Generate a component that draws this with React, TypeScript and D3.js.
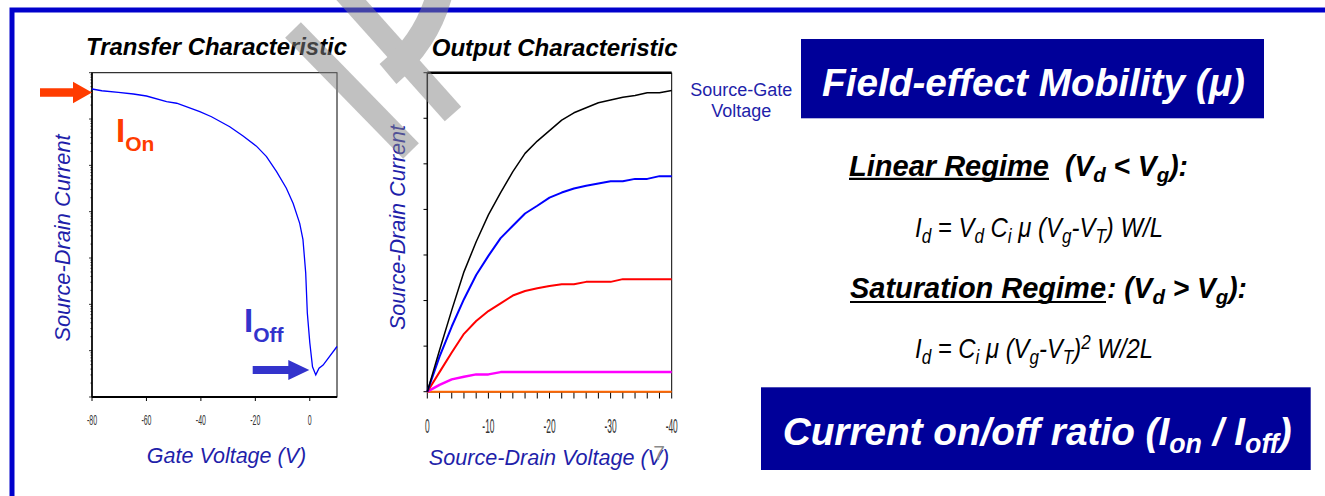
import React from "react";
import * as d3 from "d3";

// ---------- data ----------
// Transfer characteristic: gate voltage (V) vs source-drain current (A, log scale)
const transferVg = [-80, -76.4, -70.3, -64.8, -60, -52.6, -48.9, -40.4, -36.1, -29.4, -24.5, -19.6, -15.9, -12.2, -8.6, -6.1, -3.7, -2.5, -1.5, -0.9, 0, 1.0, 2.2, 3.4, 4.9, 10];
const transferId = [4.45e-6, 4.08e-6, 3.78e-6, 3.47e-6, 3.14e-6, 2.37e-6, 2.19e-6, 1.44e-6, 1.12e-6, 6.8e-7, 4.3e-7, 2.6e-7, 1.54e-7, 7.3e-8, 3.2e-8, 1.5e-8, 5.6e-9, 2.5e-9, 4.8e-10, 6.5e-11, 1.5e-11, 4.5e-12, 3.0e-12, 4.2e-12, 4.9e-12, 1.23e-11];
const transferTicks = [-80, -60, -40, -20, 0];

// Output characteristic: source-drain voltage (V) vs current (arb. units)
const outputVd = [0, -2, -4, -6, -8, -10, -12, -14, -16, -18, -20, -22, -24, -26, -28, -30, -32, -34, -36, -38, -40];
const outBlack = [0, 0.91, 1.79, 2.63, 3.29, 3.88, 4.37, 4.83, 5.23, 5.5, 5.73, 5.96, 6.12, 6.23, 6.34, 6.4, 6.46, 6.5, 6.56, 6.56, 6.61];
const outBlue = [0, 0.77, 1.43, 2.03, 2.56, 2.98, 3.37, 3.64, 3.91, 4.08, 4.26, 4.37, 4.46, 4.52, 4.57, 4.62, 4.62, 4.67, 4.67, 4.73, 4.73];
const outRed = [0, 0.43, 0.86, 1.27, 1.55, 1.77, 1.94, 2.11, 2.21, 2.27, 2.32, 2.36, 2.36, 2.41, 2.41, 2.41, 2.47, 2.47, 2.47, 2.47, 2.47];
const outMagenta = [0, 0.15, 0.27, 0.33, 0.38, 0.38, 0.43, 0.43, 0.43, 0.43, 0.43, 0.43, 0.43, 0.43, 0.43, 0.43, 0.43, 0.43, 0.43, 0.43, 0.43];
const outOrange = [0, 0, 0, 0, 0, 0, 0, 0, 0, 0, 0, 0, 0, 0, 0, 0, 0, 0, 0, 0, 0];
const outputTicks = [0, -10, -20, -30, -40];
const outputMinorTicks = outputVd;
const outputYTicks = [0, 1, 2, 3, 4, 5, 6, 7];

const outSeries = [
  { values: outOrange, color: "#ff6600", width: 2 },
  { values: outMagenta, color: "#ff00ff", width: 2.5 },
  { values: outRed, color: "#ff0000", width: 2 },
  { values: outBlue, color: "#0000ff", width: 2 },
  { values: outBlack, color: "#000000", width: 1.5 },
];

const FONT = "'Liberation Sans', Arial, Helvetica, sans-serif";
const LABEL = "#1f1faa";
const NAVY = "#000099";

type Seg = [string, "n" | "sub" | "sup"];

function Rich(props: {
  x: number; y: number; segs: Seg[]; size: number; subSize: number; shift: number;
  weight?: string; fill?: string; textLength?: number;
}) {
  const { x, y, segs, size, subSize, shift, weight = "normal", fill = "#000", textLength } = props;
  let cur = 0;
  return (
    <text x={x} y={y} fontFamily={FONT} fontSize={size} fontStyle="italic" fontWeight={weight} fill={fill}
      style={{ whiteSpace: "pre" }}
      {...(textLength ? { textLength, lengthAdjust: "spacingAndGlyphs" } : {})}>
      {segs.map(([t, k], i) => {
        const target = k === "sub" ? shift : k === "sup" ? -shift * 1.6 : 0;
        const dy = target - cur;
        cur = target;
        return (
          <tspan key={i} dy={dy} fontSize={k === "n" ? size : subSize}>{t}</tspan>
        );
      })}
    </text>
  );
}

export default function App() {
  // transfer scales
  const tx = d3.scaleLinear().domain([-80, 10]).range([92, 337]);
  const ty = d3.scaleLog().domain([1e-12, 1e-5]).range([397, 72.7]);
  const tLine = d3.line<number>().x((_, i) => tx(transferVg[i])).y((d) => ty(d));
  const minor: { v: number; major: boolean }[] = [];
  for (let e = -12; e <= -6; e++) {
    for (let m = 1; m <= 9; m++) minor.push({ v: m * Math.pow(10, e), major: m === 1 });
  }
  minor.push({ v: 1e-5, major: true });

  // output scales
  const ox = d3.scaleLinear().domain([0, -40]).range([427.3, 671.7]);
  const oy = d3.scaleLinear().domain([0, 7]).range([391.7, 72.7]);
  const oLine = d3.line<number>().x((_, i) => ox(outputVd[i])).y((d) => oy(d));

  return (
    <svg width={1325} height={496} style={{ position: "absolute", left: 0, top: 0, background: "#fff" }}>
      <rect x={0} y={0} width={1325} height={496} fill="#fff" />
      {/* frame */}
      <path d="M12,500 L12,10 L1330,10" fill="none" stroke="#0000cc" strokeWidth={5} />

      {/* ---------- Transfer characteristic ---------- */}
      <text x={86} y={55} fontFamily={FONT} fontSize={23} fontWeight="bold" fontStyle="italic" textLength={261} lengthAdjust="spacingAndGlyphs">Transfer Characteristic</text>
      <rect x={92} y={72.7} width={245} height={324.3} fill="none" stroke="#000" strokeWidth={1} />
      <line x1={92} x2={92} y1={72.7} y2={397} stroke="#000" strokeWidth={1.5} />
      <line x1={92} x2={337} y1={397} y2={397} stroke="#000" strokeWidth={2} />
      {minor.map((m, i) => (
        <line key={i} x1={92} x2={m.major ? 89 : 90.5} y1={ty(m.v)} y2={ty(m.v)} stroke="#000" strokeWidth={0.8} />
      ))}
      {transferTicks.map((v) => (
        <g key={v}>
          <line x1={tx(v)} x2={tx(v)} y1={397} y2={401} stroke="#000" strokeWidth={1} />
          <text transform={`translate(${tx(v)},425) scale(0.5,1)`} textAnchor="middle" fontFamily={FONT} fontSize={14} fill="#333">{String(v)}</text>
        </g>
      ))}
      <path d={tLine(transferId) || ""} fill="none" stroke="#0000ff" strokeWidth={1.3} />
      <text transform="translate(70,238) rotate(-90)" textAnchor="middle" fontFamily={FONT} fontSize={21.8} fontStyle="italic" fill={LABEL}>Source-Drain Current</text>
      <text x={226.5} y={463} textAnchor="middle" fontFamily={FONT} fontSize={21.5} fontStyle="italic" fill={LABEL}>Gate Voltage (V)</text>

      {/* I_On annotation */}
      <path d="M40,88.3 L73,88.3 L73,81.7 L92,92.5 L73,103.3 L73,96.7 L40,96.7 Z" fill="#ff3c00" />
      <text x={116} y={141.7} fontFamily={FONT} fontWeight="bold" fill="#ff3c00">
        <tspan fontSize={33}>I</tspan>
        <tspan fontSize={21} dy={9}>On</tspan>
      </text>
      {/* I_Off annotation */}
      <path d="M252.7,366 L288.3,366 L288.3,360 L309.3,370 L288.3,380 L288.3,374 L252.7,374 Z" fill="#3333cc" />
      <text x={244} y={331.7} fontFamily={FONT} fontWeight="bold" fill="#3333cc">
        <tspan fontSize={33}>I</tspan>
        <tspan fontSize={21} dy={10}>Off</tspan>
      </text>

      {/* ---------- Output characteristic ---------- */}
      <text x={431.7} y={56} fontFamily={FONT} fontSize={23} fontWeight="bold" fontStyle="italic" textLength={246} lengthAdjust="spacingAndGlyphs">Output Characteristic</text>
      <line x1={427.3} x2={671.7} y1={72.7} y2={72.7} stroke="#000" strokeWidth={2.5} />
      <line x1={671.7} x2={671.7} y1={72.7} y2={391.7} stroke="#000" strokeWidth={1} />
      <line x1={427.3} x2={427.3} y1={72.7} y2={391.7} stroke="#000" strokeWidth={1.5} />
      <line x1={427.3} x2={671.7} y1={391.7} y2={391.7} stroke="#000" strokeWidth={1.5} />
      {outputYTicks.map((v) => (
        <line key={v} x1={427.3} x2={423.5} y1={oy(v)} y2={oy(v)} stroke="#000" strokeWidth={1} />
      ))}
      {outputMinorTicks.map((v) => (
        <line key={v} x1={ox(v)} x2={ox(v)} y1={391.7} y2={398.5} stroke="#000" strokeWidth={1} />
      ))}
      {outputTicks.map((v) => (
        <text key={v} transform={`translate(${ox(v)},433) scale(0.42,1)`} textAnchor="middle" fontFamily={FONT} fontSize={20} fill="#333">{String(v)}</text>
      ))}
      {outSeries.map((s, i) => (
        <path key={i} d={oLine(s.values) || ""} fill="none" stroke={s.color} strokeWidth={s.width} strokeLinejoin="round" />
      ))}
      <text transform="translate(405,227.5) rotate(-90)" textAnchor="middle" fontFamily={FONT} fontSize={21.6} fontStyle="italic" fill={LABEL}>Source-Drain Current</text>
      <text x={549} y={465} textAnchor="middle" fontFamily={FONT} fontSize={21.6} fontStyle="italic" fill={LABEL}>Source-Drain Voltage (V)</text>
      <text x={659} y={460} textAnchor="middle" fontFamily={FONT} fontSize={21} fill="#8a8a8a">7</text>

      {/* Source-Gate label */}
      <text x={741.3} y={96} textAnchor="middle" fontFamily={FONT} fontSize={18} fill={LABEL}>Source-Gate</text>
      <text x={741.3} y={117.3} textAnchor="middle" fontFamily={FONT} fontSize={18} fill={LABEL}>Voltage</text>

      {/* ---------- right panel ---------- */}
      <rect x={801} y={39} width={463} height={79.3} fill={NAVY} />
      <text x={822} y={95.7} fontFamily={FONT} fontSize={38} fontWeight="bold" fontStyle="italic" fill="#fff" textLength={423} lengthAdjust="spacingAndGlyphs">Field-effect Mobility (μ)</text>

      <text x={849} y={175.7} fontFamily={FONT} fontSize={29} fontWeight="bold" fontStyle="italic" textLength={200} lengthAdjust="spacingAndGlyphs">Linear Regime</text>
      <line x1={849} x2={1049} y1={178.8} y2={178.8} stroke="#000" strokeWidth={2.2} />
      <Rich x={1065} y={175.7} size={29} subSize={21} shift={6} weight="bold" textLength={123}
        segs={[["(V", "n"], ["d", "sub"], [" < V", "n"], ["g", "sub"], ["):", "n"]]} />

      <Rich x={915} y={236.7} size={28} subSize={20} shift={6} textLength={248}
        segs={[["I", "n"], ["d", "sub"], [" = V", "n"], ["d", "sub"], [" C", "n"], ["i", "sub"], [" μ (V", "n"], ["g", "sub"], ["-V", "n"], ["T", "sub"], [") W/L", "n"]]} />

      <text x={850} y={298.3} fontFamily={FONT} fontSize={29} fontWeight="bold" fontStyle="italic" textLength={256} lengthAdjust="spacingAndGlyphs">Saturation Regime</text>
      <line x1={850} x2={1106} y1={302} y2={302} stroke="#000" strokeWidth={2.2} />
      <Rich x={1107} y={298.3} size={29} subSize={21} shift={6} weight="bold" textLength={140}
        segs={[[": (V", "n"], ["d", "sub"], [" > V", "n"], ["g", "sub"], ["):", "n"]]} />

      <Rich x={915} y={358.3} size={28} subSize={20} shift={6} textLength={238}
        segs={[["I", "n"], ["d", "sub"], [" = C", "n"], ["i", "sub"], [" μ (V", "n"], ["g", "sub"], ["-V", "n"], ["T", "sub"], [")", "n"], ["2", "sup"], [" W/2L", "n"]]} />

      <rect x={761} y={387.3} width={549.7} height={82.7} fill={NAVY} />
      <Rich x={782.7} y={445} size={39} subSize={27} shift={8} weight="bold" fill="#fff" textLength={509}
        segs={[["Current on/off ratio (I", "n"], ["on", "sub"], [" / I", "n"], ["off", "sub"], [")", "n"]]} />

      {/* watermark fragments */}
      <g opacity={0.5} stroke="#848484" fill="none" strokeWidth={22}>
        <line x1={293} y1={30} x2={411} y2={151} />
        <line x1={344} y1={-8} x2={453} y2={114} />
        <path d="M440,-8 Q428,40 388,74" strokeWidth={26} />
      </g>
    </svg>
  );
}
